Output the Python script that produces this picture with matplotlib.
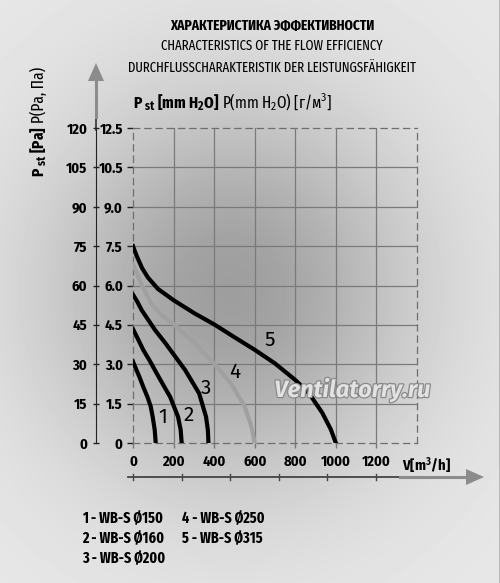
import numpy as np
import matplotlib.pyplot as plt
import matplotlib.patheffects as pe

# curves: flow V [m3/h] vs static pressure [Pa]
flow1 = [0, 16, 31, 50, 71, 87, 97, 107, 112]
pres1 = [31, 28, 25.3, 21.5, 17.6, 14, 10, 5, 0]
flow2 = [0, 25, 51, 85, 117, 150, 183, 222, 235, 240]
pres2 = [43.4, 39.5, 35.4, 31, 26.5, 22, 17.6, 10, 5, 0]
flow3 = [0, 20, 43, 109, 160, 257, 326, 360, 369, 372]
pres3 = [56.5, 54, 50.6, 43, 38, 27.8, 18.9, 10, 5, 0]
flow4 = [0, 20, 41, 90, 140, 205, 300, 400, 483, 550, 583, 600]
pres4 = [68.1, 64.5, 60.6, 53.1, 48.8, 45, 38.3, 30.2, 22.7, 14, 6.5, 0]
flow5 = [0, 8, 18, 30, 45, 74, 123, 200, 303, 400, 500, 600, 700, 800, 867, 933, 975, 1000]
pres5 = [75, 73.3, 71.3, 69.2, 66.6, 63, 58.7, 54.4, 49.4, 45.2, 40.3, 35.5, 30.3, 24, 19, 11.5, 5.2, 0]

pa_ticks = [0, 15, 30, 45, 60, 75, 90, 105, 120]
pa_labels = ['0', '15', '30', '45', '60', '75', '90', '105', '120']
mm_labels = ['0', '1.5', '3.0', '4.5', '6.0', '7.5', '9.0', '10.5', '12.5']
v_ticks = [0, 200, 400, 600, 800, 1000, 1200]

curve_names = ['1', '2', '3', '4', '5']
name_q = [148, 277, 360, 503, 675]
name_p = [9.9, 10.7, 20.9, 27.1, 39]

models_left = ['1 - WB-S Ø150', '2 - WB-S Ø160', '3 - WB-S Ø200']
models_right = ['4 - WB-S Ø250', '5 - WB-S Ø315']

titles = ['ХАРАКТЕРИСТИКА ЭФФЕКТИВНОСТИ',
          'CHARACTERISTICS OF THE FLOW EFFICIENCY',
          'DURCHFLUSSCHARAKTERISTIK DER LEISTUNGSFÄHIGKEIT']

W, H = 500, 583
FONT = 'Fira Sans Condensed'
NARROW = ['Fira Sans Extra Condensed', FONT, 'DejaVu Sans']
plt.rcParams['font.family'] = [FONT, 'DejaVu Sans']
plt.rcParams['mathtext.fontset'] = 'custom'
plt.rcParams['mathtext.rm'] = FONT
plt.rcParams['mathtext.bf'] = FONT + ':bold'
plt.rcParams['mathtext.it'] = FONT + ':italic'

fig = plt.figure(figsize=(W / 100, H / 100), dpi=100)

# background with radial shade
bg = fig.add_axes([0, 0, 1, 1])
yy, xx = np.mgrid[0:H, 0:W]
d = np.hypot(xx - 230, (yy - 290) / 1.05)
shade = 232 - 74 * np.exp(-(d / 185) ** 2)
bg.imshow(shade, cmap='gray', vmin=0, vmax=255, extent=(0, W, H, 0),
          aspect='auto', interpolation='bilinear')
bg.set_xlim(0, W)
bg.set_ylim(H, 0)
bg.axis('off')

# decorative arrows
bg.plot([96, 96], [116, 130], color='#222222', lw=1.1)
bg.plot([96, 96], [80, 117], color='#8c8c8c', lw=2.2)
bg.fill([88, 104, 96], [81, 81, 63], color='#8c8c8c', lw=0)
bg.plot([128, 405], [477, 477], color='#444444', lw=1.3)
bg.plot([400, 468], [477, 477], color='#8c8c8c', lw=2.2)
bg.fill([466, 466, 484], [469, 485, 477], color='#8c8c8c', lw=0)
for tx in np.linspace(133, 376, 6):
  bg.plot([tx, tx], [474, 480], color='#444444', lw=1)
bg.axvline(499.5, color='black', lw=1)

# main plot
ax = fig.add_axes([133 / W, 1 - 443 / H, (417 - 133) / W, (443 - 128) / H])
ax2 = ax.twinx()
ax.set_zorder(ax2.get_zorder() + 1)
ax.set_facecolor('none')

ax.set_xlim(0, 1400)
ax.set_ylim(0, 120)
ax.set_xticks(v_ticks)
ax.set_yticks(pa_ticks)
ax.set_yticklabels(pa_labels)
for v in v_ticks[1:]:
  ax.axvline(v, color='#7a7a7a', lw=0.9, zorder=1)
for p in pa_ticks[1:-1]:
  ax.axhline(p, color='#7a7a7a', lw=0.9, zorder=1)
for s in ['top', 'right', 'bottom']:
  ax.spines[s].set_visible(False)
ax.spines['left'].set_position(('outward', 26.6))
ax.spines['left'].set_color('#222222')
ax.tick_params(axis='y', direction='inout', length=4.5, width=1, pad=4,
               labelsize=10.5, color='#222222')
ax.tick_params(axis='x', direction='out', length=3.5, width=1, pad=5,
               labelsize=10.5, color='#777777')
for lbl in ax.get_xticklabels() + ax.get_yticklabels():
  lbl.set_fontweight('bold')

ax2.set_ylim(0, 120)
ax2.set_yticks(pa_ticks)
ax2.set_yticklabels(mm_labels, fontweight='bold')
ax2.yaxis.tick_left()
ax2.tick_params(axis='y', direction='out', length=4.3, width=1, pad=3,
                labelsize=10.5, color='#222222')
for s in ['top', 'right', 'bottom', 'left']:
  ax2.spines[s].set_linestyle((0, (5, 4)))
  ax2.spines[s].set_color('#6e6e6e')
  ax2.spines[s].set_linewidth(0.9)

ax.plot(flow1, pres1, color='black', lw=3, solid_joinstyle='round', zorder=3)
ax.plot(flow2, pres2, color='black', lw=3, solid_joinstyle='round', zorder=3)
ax.plot(flow3, pres3, color='black', lw=3, solid_joinstyle='round', zorder=3)
ax.plot(flow4, pres4, color='#a0a0a0', lw=3, solid_joinstyle='round', zorder=3)
ax.plot(flow5, pres5, color='black', lw=3, solid_joinstyle='round', zorder=3)

for i in range(len(curve_names)):
  ax.text(name_q[i], name_p[i], curve_names[i], fontsize=15,
          ha='center', va='center', color='black',
          family=['Fira Sans', 'DejaVu Sans'])

ax.text(1081, 20.2, 'Ventilatorry.ru', fontsize=17, fontstyle='italic',
        fontweight='bold', color='#e2e2e2', ha='center', va='center',
        family=['Fira Sans', 'DejaVu Sans'],
        path_effects=[pe.withStroke(linewidth=1.8, foreground='#8a8a8a')])

ax.annotate(r'V[m$^\mathbf{3}$/h]', xy=(1328, 0), xycoords=ax.get_xaxis_transform(),
            xytext=(0, -8.6), textcoords='offset points', ha='left', va='top',
            fontsize=10.5, fontweight='bold')

# titles
tys = [30, 50, 72]
tsz = [10.5, 10, 10]
for i in range(len(titles)):
  fig.text(272 / W, 1 - tys[i] / H, titles[i], ha='center', va='baseline',
           fontsize=tsz[i], fontweight='bold' if i == 0 else 'normal',
           family=NARROW)

r = fig.canvas.get_renderer()

# top axis label
t1 = fig.text(133 / W, 1 - 108 / H, r'P ${}_\mathbf{st}$ [mm H$_\mathbf{2}$O]',
              fontsize=12, fontweight='bold', va='baseline', family=NARROW)
bb = t1.get_window_extent(r)
fig.text((bb.x1 + 3) / W, 1 - 108 / H, r'P(mm H$_2$O) [г/м$^3$]',
         fontsize=12, va='baseline', family=NARROW)

# left axis label
t3 = fig.text(44 / W, 1 - 177 / H, r'P ${}_\mathbf{st}$ [Pa]', fontsize=12,
              fontweight='bold', rotation=90, rotation_mode='anchor',
              ha='left', va='baseline', family=NARROW)
bb = t3.get_window_extent(r)
fig.text(44 / W, (bb.y1 + 3) / H, 'P(Pa, Па)', fontsize=12, rotation=90,
         rotation_mode='anchor', ha='left', va='baseline', family=NARROW)

# legend of models
rows = [523, 543, 563]
for i in range(len(models_left)):
  fig.text(82 / W, 1 - rows[i] / H, models_left[i], fontsize=11,
           fontweight='bold', va='baseline', family=NARROW)
for i in range(len(models_right)):
  fig.text(182 / W, 1 - rows[i] / H, models_right[i], fontsize=11,
           fontweight='bold', va='baseline', family=NARROW)

fig.savefig('out.png', dpi=100)
